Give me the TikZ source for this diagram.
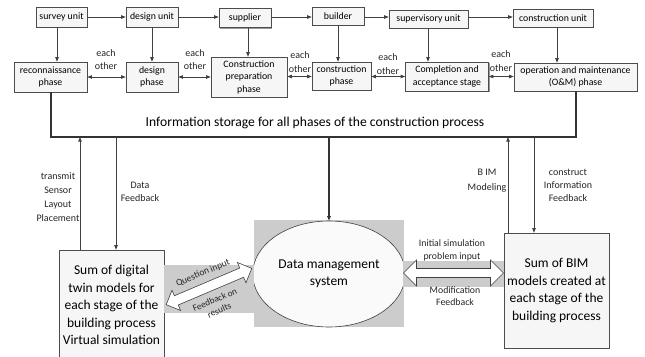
\documentclass[tikz,border=0pt]{standalone}
\usepackage{fontspec}
\setmainfont{Carlito}
\usetikzlibrary{arrows.meta,shapes.geometric,shadows}
\begin{document}
\begin{tikzpicture}[x=1pt,y=-1pt,
  ln/.style={draw=black!75,line width=0.7pt},
  thk/.style={draw=black!80,line width=1.3pt},
  tip/.style={-{Triangle[length=4.5pt,width=3.4pt]}},
  dtip/.style={{Triangle[length=4.5pt,width=3.4pt]}-{Triangle[length=4.5pt,width=3.4pt]}},
  box/.style={draw=black!70,fill=gray!7,line width=0.6pt,inner sep=1pt,align=center,
    font=\fontsize{9.8}{12.5}\selectfont,
    drop shadow={shadow xshift=1.2pt,shadow yshift=-1.2pt,fill=black!40,opacity=1}},
  bigbox/.style={box,font=\fontsize{13.5}{17.6}\selectfont},
  lbl/.style={align=center,inner sep=0pt,font=\fontsize{10}{13.5}\selectfont,text=black!85},
  slbl/.style={align=center,inner sep=0pt,font=\fontsize{10}{14}\selectfont,text=black!85},
  hollow/.style={draw=black!75,line width=0.6pt,fill=white}
]
\clip (0,0) rectangle (645,356);
\fill[white] (0,0) rectangle (645,356);

% top row
\node[box,minimum width=51,minimum height=20] (su) at (61.5,17) {survey unit};
\node[box,minimum width=52,minimum height=20] (du) at (152,17) {design unit};
\node[box,minimum width=52,minimum height=19] (sp) at (245,18) {supplier};
\node[box,minimum width=52,minimum height=18] (bu) at (338,16) {builder};
\node[box,minimum width=79,minimum height=18] (sv) at (428.5,19) {supervisory unit};
\node[box,minimum width=80,minimum height=18] (cu) at (553,18) {construction unit};

\draw[ln,tip] (su.east |- 0,17) -- (du.west |- 0,17);
\draw[ln,tip] (du.east |- 0,17) -- (sp.west |- 0,17);
\draw[ln,tip] (sp.east |- 0,17) -- (bu.west |- 0,17);
\draw[ln,tip] (bu.east |- 0,17) -- (sv.west |- 0,17);
\draw[ln,tip] (sv.east |- 0,17) -- (cu.west |- 0,17);

% second row
\node[box,minimum width=73,minimum height=30] (re) at (50.5,77) {reconnaissance\\phase};
\node[box,minimum width=52,minimum height=30] (dp) at (152,77) {design\\phase};
\node[box,minimum width=76,minimum height=40] (cp) at (249,77) {Construction\\preparation\\phase};
\node[box,minimum width=59,minimum height=28] (cph) at (341.5,76) {construction\\phase};
\node[box,minimum width=83,minimum height=29] (ca) at (447,76.5) {Completion and\\acceptance stage};
\node[box,minimum width=123,minimum height=28] (om) at (575.5,77) {operation and maintenance\\(O\&M) phase};

\draw[ln,tip] (su.south -| 57,0) -- (re.north -| 57,0);
\draw[ln,tip] (du.south -| 152,0) -- (dp.north -| 152,0);
\draw[ln,tip] (sp.south -| 248,0) -- (cp.north -| 248,0);
\draw[ln,tip] (bu.south -| 338,0) -- (cph.north -| 338,0);
\draw[ln,tip] (sv.south -| 428,0) -- (ca.north -| 428,0);
\draw[ln,tip] (cu.south -| 557,0) -- (om.north -| 557,0);

\draw[ln,dtip] (re.east |- 0,77) -- (dp.west |- 0,77);
\draw[ln,dtip] (dp.east |- 0,77) -- (cp.west |- 0,77);
\draw[ln,dtip] (cp.east |- 0,76.5) -- (cph.west |- 0,76.5);
\draw[ln,dtip] (cph.east |- 0,76.5) -- (ca.west |- 0,76.5);
\draw[ln,dtip] (ca.east |- 0,76.5) -- (om.west |- 0,76.5);

\node[lbl] (e1) at (106,59.5) {each\\other};
\node[lbl] (e2) at (195,59.5) {each\\other};
\node[lbl] (e3) at (300,62) {each\\other};
\node[lbl] (e4) at (388,64) {each\\other};
\node[lbl] (e5) at (501,61) {each\\other};

% information storage bracket
\coordinate (sL) at (51,137);
\coordinate (sR) at (576,137);
\draw[thk] (re.south -| sL) -- (sL) -- (sR) -- (om.south -| sR);
\node[font=\fontsize{13.6}{16}\selectfont] (ist) at (315,123) {Information storage for all phases of the construction process};

% lower elements
\node[bigbox,minimum width=105,minimum height=110] (dt) at (111.5,305)
  {Sum of digital\\twin models for\\each stage of the\\building process\\Virtual simulation};
\node[bigbox,minimum width=105,minimum height=115] (bim) at (556.5,290.5)
  {Sum of BIM\\models created at\\each stage of the\\building process};

\fill[gray!40] (254,220) rectangle (404,327);
\node[ellipse,draw=black!75,line width=0.6pt,fill=gray!4,minimum width=148,minimum height=106,
  align=center,font=\fontsize{13.5}{17}\selectfont] (dm) at (329,274) {Data management\\system};

\coordinate (s1) at (80,137);
\coordinate (s2) at (116,137);
\coordinate (s3) at (329,137);
\coordinate (s4) at (508,137);
\coordinate (s5) at (534,137);
\draw[ln,tip] (dt.north -| s1) -- (s1);
\draw[ln,tip] (s2) -- (dt.north -| s2);
\draw[thk,tip] (s3) -- (dm.north);
\draw[ln,tip] (bim.north -| s4) -- (s4);
\draw[ln,tip] (s5) -- (bim.north -| s5);

\node[slbl] (l1) at (58,197) {transmit\\Sensor\\Layout\\Placement};
\node[slbl,font=\fontsize{10}{13}\selectfont] (l2) at (140,191.5) {Data\\Feedback};
\node[slbl,font=\fontsize{10}{15}\selectfont] (l3) at (487,180.5) {B IM\\Modeling};
\node[slbl,font=\fontsize{10}{13}\selectfont] (l4) at (568,185) {construct\\Information\\Feedback};

% left double arrow
\fill[gray!40] (164,265) rectangle (254,313);
\begin{scope}[shift={(209,286.5)},rotate=23]
  \draw[hollow] (-46.5,0) -- (-35.5,11) -- (-35.5,5) -- (35.5,5) -- (35.5,11) -- (46.5,0)
    -- (35.5,-11) -- (35.5,-5) -- (-35.5,-5) -- (-35.5,-11) -- cycle;
\end{scope}
\node[slbl,font=\fontsize{9.5}{10}\selectfont,rotate=23] (q1) at (203,273) {Question input};
\node[slbl,font=\fontsize{9.2}{11.5}\selectfont,rotate=23] (q2) at (217,305) {Feedback on\\results};

% right double arrow
\fill[gray!40] (403,261) rectangle (504,287);
\begin{scope}[shift={(453.5,273)}]
  \draw[hollow] (-50,0) -- (-37,13) -- (-37,4.5) -- (37,4.5) -- (37,13) -- (50,0)
    -- (37,-13) -- (37,-4.5) -- (-37,-4.5) -- (-37,-13) -- cycle;
\end{scope}
\node[slbl,font=\fontsize{9.8}{13}\selectfont] (r1) at (452,250.5) {Initial simulation\\problem input};
\node[slbl,font=\fontsize{9.8}{12}\selectfont] (r2) at (455,296) {Modification\\Feedback};
\end{tikzpicture}
\end{document}
